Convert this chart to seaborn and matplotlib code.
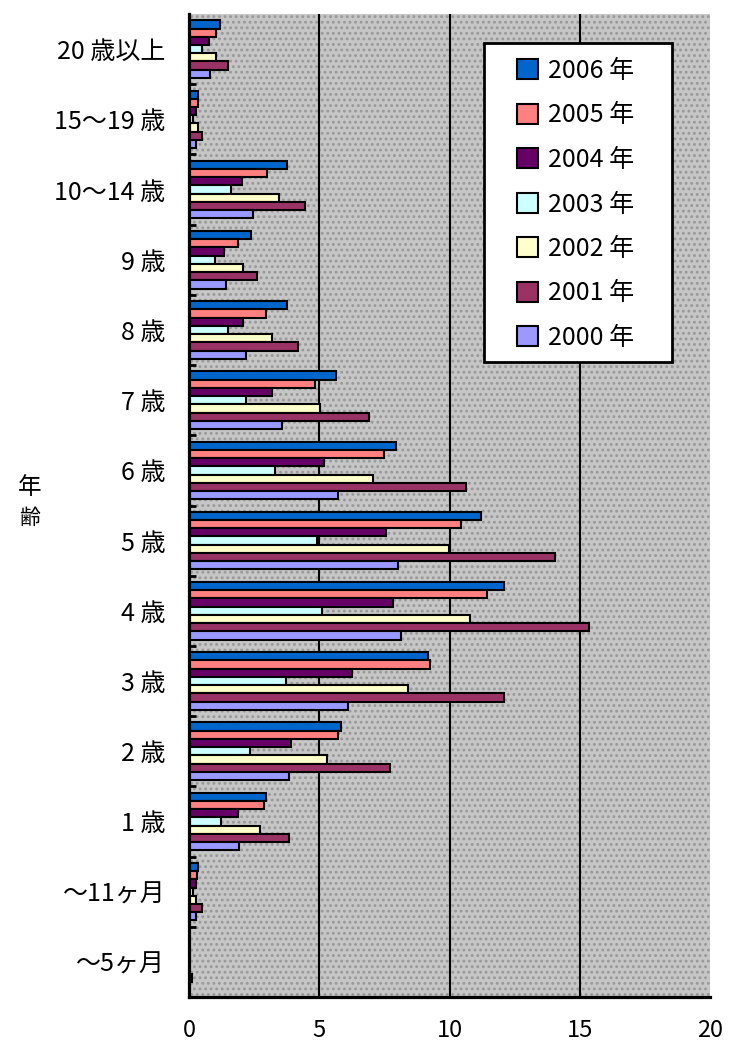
import matplotlib
matplotlib.use("Agg")
import matplotlib.pyplot as plt
from matplotlib.patches import Patch, Rectangle
import numpy as np
import pandas as pd
import seaborn as sns

# Age groups, top to bottom
ages = ["20 歳以上", "15～19 歳", "10～14 歳", "9 歳", "8 歳", "7 歳", "6 歳",
        "5 歳", "4 歳", "3 歳", "2 歳", "1 歳", "～11ヶ月", "～5ヶ月"]

years = ["2006 年", "2005 年", "2004 年", "2003 年", "2002 年", "2001 年", "2000 年"]

y2006 = [1.2, 0.35, 3.77, 2.38, 3.77, 5.63, 7.95, 11.2, 12.1, 9.18, 5.85, 2.95, 0.35, 0.0]
y2005 = [1.05, 0.33, 3.0, 1.87, 2.95, 4.82, 7.5, 10.45, 11.45, 9.25, 5.72, 2.87, 0.32, 0.0]
y2004 = [0.75, 0.25, 2.05, 1.33, 2.07, 3.2, 5.2, 7.57, 7.83, 6.27, 3.92, 1.88, 0.25, 0.0]
y2003 = [0.5, 0.15, 1.63, 0.98, 1.5, 2.2, 3.3, 4.9, 5.12, 3.73, 2.35, 1.22, 0.15, 0.0]
y2002 = [1.05, 0.35, 3.45, 2.07, 3.2, 5.03, 7.07, 9.98, 10.8, 8.4, 5.28, 2.72, 0.25, 0.0]
y2001 = [1.5, 0.5, 4.47, 2.6, 4.18, 6.92, 10.63, 14.05, 15.35, 12.1, 7.72, 3.82, 0.5, 0.1]
y2000 = [0.8, 0.27, 2.45, 1.42, 2.2, 3.58, 5.72, 8.02, 8.15, 6.12, 3.82, 1.93, 0.27, 0.0]

colors = ["#0066CC", "#FF8080", "#660066", "#CCFFFF", "#FFFFCC", "#993366", "#9999FF"]

xticks = [0, 5, 10, 15, 20]

series = [y2006, y2005, y2004, y2003, y2002, y2001, y2000]
df = pd.DataFrame({
    "age": np.tile(ages, len(years)),
    "year": np.repeat(years, len(ages)),
    "value": np.concatenate(series),
})

plt.rcParams["font.family"] = ["Noto Sans CJK JP", "DejaVu Sans"]

W, H = 729, 1044
fig = plt.figure(figsize=(W / 100, H / 100), dpi=100)
fig.patch.set_facecolor("white")
left, right, top, bottom = 189, 710, 14, 997
ax = fig.add_axes([left / W, 1 - bottom / H, (right - left) / W, (bottom - top) / H])


def to_axes(px, py):
    return (px - left) / (right - left), 1 - (py - top) / (bottom - top)


# Dotted grey plot area
ax.set_facecolor("#c6c6c6")
plt.rcParams["hatch.linewidth"] = 1.3
ax.add_patch(Rectangle((0, 0), 1, 1, transform=ax.transAxes, facecolor="none",
                       edgecolor="#999999", hatch="...", linewidth=0, zorder=0.5))

sns.barplot(data=df, y="age", x="value", hue="year", orient="h",
            order=ages, hue_order=years, palette=colors, width=0.82,
            edgecolor="black", linewidth=1.5, saturation=1, legend=False,
            ax=ax, zorder=3)

ax.set_xlim(0, 20)
ax.set_ylim(len(ages) - 0.5, -0.5)
ax.set_xticks(xticks)
ax.set_xticklabels([str(t) for t in xticks], fontsize=17)
ax.tick_params(axis="x", length=0, pad=16)
ax.set_yticks(range(len(ages)))
ax.set_yticklabels(ages)
ax.tick_params(axis="y", length=0, pad=17, labelsize=18)
ax.set_yticks(np.arange(0.5, len(ages) - 0.5, 1), minor=True)
ax.tick_params(axis="y", which="minor", direction="in", length=5, width=2, color="black")
ax.set_xlabel("")
ax.set_ylabel("")

for v in [5, 10, 15]:
    ax.axvline(v, color="black", linewidth=1.5, zorder=1)

for side in ["top", "right"]:
    ax.spines[side].set_visible(False)
for side in ["left", "bottom"]:
    ax.spines[side].set_linewidth(2.3)
    ax.spines[side].set_color("black")
    ax.spines[side].set_zorder(5)

# Vertical axis title
fig.text(30 / W, 1 - 487 / H, "年", fontsize=17, ha="center", va="center")
fig.text(30 / W, 1 - 518 / H, "齢", fontsize=15, ha="center", va="center")

# Legend: white framed box with the year entries inside
bx0, by1 = to_axes(484, 43)
bx1, by0 = to_axes(672, 362)
ax.add_patch(Rectangle((bx0, by0), bx1 - bx0, by1 - by0, transform=ax.transAxes,
                       facecolor="white", edgecolor="black", linewidth=2, zorder=9))
handles = [Patch(facecolor=c, edgecolor="black", linewidth=1.5) for c in colors]
lax, lay = to_axes(517, 58)
leg = ax.legend(handles, years, loc="upper left", bbox_to_anchor=(lax, lay),
                fontsize=18, frameon=False, handlelength=0.84, handleheight=0.84,
                handletextpad=0.4, labelspacing=0.74, borderpad=0, borderaxespad=0)
leg.set_zorder(10)

fig.savefig("out.png", dpi=100, facecolor="white")
